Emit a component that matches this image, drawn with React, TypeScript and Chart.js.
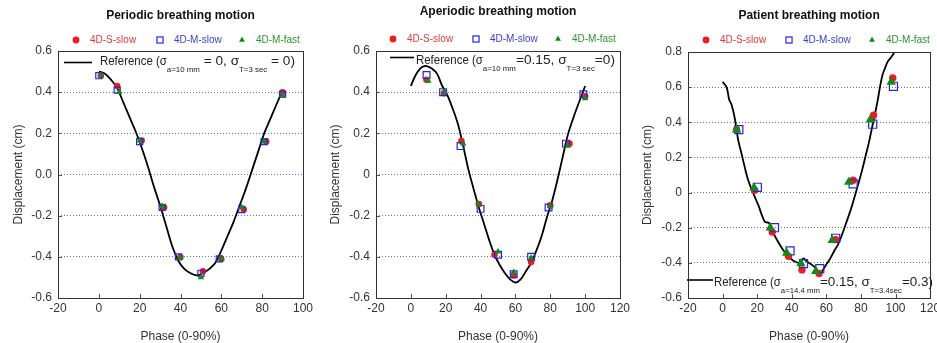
import React, { useEffect, useRef } from 'react';
import { Chart, registerables } from 'chart.js';
Chart.register(...registerables);

const FONT = '"Liberation Sans", Arial, sans-serif';

// ---------------- text ----------------
const panelTitles = ['Periodic breathing motion', 'Aperiodic breathing motion', 'Patient breathing motion'];
const seriesLabels = ['4D-S-slow', '4D-M-slow', '4D-M-fast'];
const xAxisTitle = 'Phase (0-90%)';
const yAxisTitle = 'Displacement (cm)';

const p1XTicks = ['-20', '0', '20', '40', '60', '80', '100'];
const p1YTicks = ['-0.6', '-0.4', '-0.2', '0.0', '0.2', '0.4', '0.6'];
const p2XTicks = ['-20', '0', '20', '40', '60', '80', '100', '120'];
const p2YTicks = ['-0.6', '-0.4', '-0.2', '0', '0.2', '0.4', '0.6'];
const p3XTicks = ['-20', '0', '20', '40', '60', '80', '100', '120'];
const p3YTicks = ['-0.6', '-0.4', '-0.2', '0', '0.2', '0.4', '0.6', '0.8'];

type Seg = { t: string; sub?: boolean };
const p1RefLabel: Seg[] = [{ t: 'Reference (σ' }, { t: 'a=10 mm', sub: true }, { t: ' = 0, σ' }, { t: 'T=3 sec', sub: true }, { t: ' = 0)' }];
const p2RefLabel: Seg[] = [{ t: 'Reference (σ' }, { t: 'a=10 mm', sub: true }, { t: '=0.15, σ' }, { t: 'T=3 sec', sub: true }, { t: '=0)' }];
const p3RefLabel: Seg[] = [{ t: 'Reference (σ' }, { t: 'a=14.4 mm', sub: true }, { t: '=0.15, σ' }, { t: 'T=3.4sec', sub: true }, { t: '=0.3)' }];

// ---------------- panel 1: periodic ----------------
const p1RefX = [0, 3, 6, 9, 12, 15, 18, 21, 24, 27, 30, 33, 36, 39, 42, 45, 48, 51, 54, 57, 60, 63, 66, 69, 72, 75, 78, 81, 84, 87, 90];
const p1RefY = [0.50, 0.49, 0.46, 0.42, 0.35, 0.28, 0.21, 0.13, 0.04, -0.06, -0.15, -0.25, -0.35, -0.42, -0.46, -0.48, -0.49, -0.48, -0.46, -0.43, -0.37, -0.30, -0.23, -0.15, -0.07, 0.02, 0.11, 0.20, 0.27, 0.34, 0.41];
const p1SSlowX = [1, 9, 21, 32, 40, 51, 60, 71, 82, 90];
const p1SSlowY = [0.48, 0.43, 0.165, -0.16, -0.40, -0.47, -0.41, -0.17, 0.16, 0.40];
const p1MSlowX = [0, 9, 20, 31, 39, 50, 59, 70, 81, 90];
const p1MSlowY = [0.48, 0.41, 0.16, -0.16, -0.40, -0.48, -0.41, -0.17, 0.16, 0.39];
const p1MFastX = [1, 10, 20, 31, 40, 50, 60, 70, 81, 90];
const p1MFastY = [0.48, 0.40, 0.165, -0.155, -0.405, -0.50, -0.41, -0.16, 0.16, 0.385];

// ---------------- panel 2: aperiodic ----------------
const p2RefX = [0, 2, 4, 6, 9, 12, 15, 18, 21, 24, 27, 30, 33, 36, 39, 42, 45, 48, 51, 54, 57, 60, 63, 66, 69, 72, 75, 78, 81, 84, 87, 90, 93, 96, 100];
const p2RefY = [0.43, 0.47, 0.50, 0.52, 0.527, 0.515, 0.49, 0.43, 0.385, 0.32, 0.245, 0.14, 0.025, -0.07, -0.16, -0.24, -0.32, -0.39, -0.44, -0.48, -0.51, -0.525, -0.51, -0.47, -0.43, -0.37, -0.30, -0.21, -0.13, -0.03, 0.08, 0.19, 0.27, 0.34, 0.43];
const p2SSlowX = [9, 19, 29, 39, 48, 59, 69, 80, 91, 100];
const p2SSlowY = [0.46, 0.395, 0.163, -0.143, -0.39, -0.49, -0.425, -0.15, 0.15, 0.38];
const p2MSlowX = [9, 18.5, 28.5, 40, 50, 59, 69, 79, 89, 99];
const p2MSlowY = [0.483, 0.40, 0.138, -0.167, -0.39, -0.485, -0.40, -0.16, 0.15, 0.39];
const p2MFastX = [10, 19, 30, 39, 50, 59, 69, 80, 90, 100];
const p2MFastY = [0.455, 0.40, 0.15, -0.145, -0.375, -0.475, -0.405, -0.155, 0.14, 0.37];

// ---------------- panel 3: patient ----------------
const p3RefX = [0, 2.3, 3.8, 5.2, 7.1, 9, 11, 12.8, 14.5, 16.7, 18, 19.5, 21, 22.4, 24.3, 25.5, 26.8, 27.5, 29.1, 31.5, 33.9, 36, 38.6, 40.5, 42.5, 44, 45.5, 46.8, 48, 49.1, 51.5, 53.9, 55.5, 56.8, 58, 60.6, 62.5, 64.4, 66.5, 68.3, 70.5, 73, 75, 76.9, 78.8, 80.6, 82.5, 84.5, 86, 87.3, 88.6, 89.8, 91, 92.5, 94, 95.5, 97.5, 99.4, 101];
const p3RefY = [0.63, 0.60, 0.53, 0.50, 0.42, 0.30, 0.22, 0.145, 0.08, 0.02, -0.01, -0.045, -0.08, -0.12, -0.165, -0.17, -0.172, -0.19, -0.225, -0.27, -0.31, -0.34, -0.367, -0.385, -0.395, -0.40, -0.39, -0.375, -0.385, -0.395, -0.41, -0.43, -0.45, -0.46, -0.44, -0.40, -0.37, -0.335, -0.30, -0.26, -0.20, -0.13, -0.07, -0.005, 0.06, 0.125, 0.20, 0.28, 0.35, 0.41, 0.47, 0.53, 0.60, 0.67, 0.71, 0.745, 0.77, 0.80, 0.83];
const p3SSlowX = [8.1, 18.5, 28.7, 38.1, 45.9, 55.8, 65.4, 75.5, 87.3, 98.4];
const p3SSlowY = [0.358, 0.013, -0.224, -0.363, -0.44, -0.46, -0.268, 0.07, 0.44, 0.652];
const p3MSlowX = [9.4, 20.1, 30, 39, 46.8, 56.2, 65.4, 75.5, 86.8, 98.8];
const p3MSlowY = [0.358, 0.03, -0.20, -0.332, -0.404, -0.433, -0.26, 0.05, 0.389, 0.605];
const p3MFastX = [8.1, 18.2, 27.6, 37.1, 45.3, 53.9, 63.4, 73, 85.4, 97.5];
const p3MFastY = [0.358, 0.028, -0.20, -0.344, -0.404, -0.448, -0.272, 0.06, 0.415, 0.629];

// ---------------- styles ----------------
const RED = '#ee1c1c';
const BLUE = '#2424e6';
const GREEN = '#138a13';
const legendTextColors = ['#e0393c', '#3c3cd2', '#2a952a'];

const pts = (xs: number[], ys: number[]) => xs.map((x, i) => ({ x, y: ys[i] }));

type PanelSpec = {
  title: string; titleY: number;
  xMin: number; xMax: number; yMin: number; yMax: number;
  xTicks: string[]; yTicks: string[];
  ref: Seg[]; refX: number[]; refY: number[];
  s: [number[], number[]]; m: [number[], number[]]; f: [number[], number[]];
  pad: { left: number; right: number; top: number; bottom: number }; yAxisW: number;
  gridColor: string;
  legendX: number[]; legendY: number;
  refLine: { x1: number; x2: number; y: number; tx: number; base: number; w: number };
  sizes: { c: number; s: number; t: number };
};

const panels: PanelSpec[] = [
  {
    title: panelTitles[0], titleY: 16, xMin: -20, xMax: 100, yMin: -0.6, yMax: 0.6,
    xTicks: p1XTicks, yTicks: p1YTicks, ref: p1RefLabel, refX: p1RefX, refY: p1RefY,
    s: [p1SSlowX, p1SSlowY], m: [p1MSlowX, p1MSlowY], f: [p1MFastX, p1MFastY],
    pad: { left: 11, right: 937 - 303, top: 51, bottom: 0 }, yAxisW: 47,
    gridColor: 'rgba(80,80,230,0.85)', legendX: [76, 160, 242], legendY: 40,
    refLine: { x1: 64, x2: 92, y: 62.5, tx: 100, base: 65, w: 195 },
    sizes: { c: 3.2, s: 4.3, t: 3.8 },
  },
  {
    title: panelTitles[1], titleY: 12, xMin: -20, xMax: 120, yMin: -0.6, yMax: 0.6,
    xTicks: p2XTicks, yTicks: p2YTicks, ref: p2RefLabel, refX: p2RefX, refY: p2RefY,
    s: [p2SSlowX, p2SSlowY], m: [p2MSlowX, p2MSlowY], f: [p2MFastX, p2MFastY],
    pad: { left: 328, right: 937 - 620, top: 51, bottom: 0 }, yAxisW: 48,
    gridColor: 'rgba(80,80,230,0.85)', legendX: [393, 476, 558], legendY: 39,
    refLine: { x1: 390, x2: 414, y: 57.5, tx: 416, base: 64, w: 199 },
    sizes: { c: 3.3, s: 4.8, t: 3.8 },
  },
  {
    title: panelTitles[2], titleY: 16, xMin: -20, xMax: 120, yMin: -0.6, yMax: 0.8,
    xTicks: p3XTicks, yTicks: p3YTicks, ref: p3RefLabel, refX: p3RefX, refY: p3RefY,
    s: [p3SSlowX, p3SSlowY], m: [p3MSlowX, p3MSlowY], f: [p3MFastX, p3MFastY],
    pad: { left: 640, right: 937 - 932, top: 52, bottom: 0 }, yAxisW: 48,
    gridColor: 'rgba(100,100,100,0.9)', legendX: [706, 789, 872], legendY: 40,
    refLine: { x1: 687, x2: 713, y: 280, tx: 714, base: 285.5, w: 219 },
    sizes: { c: 3.7, s: 5.7, t: 5.5 },
  },
];

function drawMarker(ctx: CanvasRenderingContext2D, kind: number, x: number, y: number, r: number) {
  ctx.save();
  if (kind === 0) {
    ctx.fillStyle = RED;
    ctx.beginPath(); ctx.arc(x, y, r, 0, Math.PI * 2); ctx.fill();
  } else if (kind === 1) {
    ctx.strokeStyle = BLUE; ctx.lineWidth = 1.2;
    const h = r * Math.SQRT1_2;
    ctx.strokeRect(x - h, y - h, 2 * h, 2 * h);
  } else {
    ctx.fillStyle = GREEN;
    ctx.beginPath();
    ctx.moveTo(x, y - r);
    ctx.lineTo(x + r * 0.866, y + r * 0.5);
    ctx.lineTo(x - r * 0.866, y + r * 0.5);
    ctx.closePath(); ctx.fill();
  }
  ctx.restore();
}

const MAIN_FONT = `13px ${FONT}`;
const SUB_FONT = `7.5px ${FONT}`;
const FIRST_SEG_SX = 0.88;

const decorPlugin = {
  id: 'decor',
  afterDraw(chart: any, _args: any, o: any) {
    const ctx: CanvasRenderingContext2D = chart.ctx;
    const a = chart.chartArea;
    const xs = chart.scales.x, ys = chart.scales.y;
    ctx.save();
    // inward tick marks
    ctx.strokeStyle = '#555'; ctx.lineWidth = 1;
    ctx.beginPath();
    xs.ticks.forEach((t: any) => {
      const px = Math.round(xs.getPixelForValue(t.value)) + 0.5;
      ctx.moveTo(px, a.bottom); ctx.lineTo(px, a.bottom - 4);
    });
    ys.ticks.forEach((t: any) => {
      const py = Math.round(ys.getPixelForValue(t.value)) + 0.5;
      ctx.moveTo(a.left, py); ctx.lineTo(a.left + 4, py);
    });
    ctx.stroke();
    // frame
    ctx.strokeStyle = '#333'; ctx.lineWidth = 1;
    ctx.strokeRect(Math.round(a.left) + 0.5, Math.round(a.top) + 0.5, Math.round(a.right - a.left), Math.round(a.bottom - a.top));
    // title
    ctx.fillStyle = '#111'; ctx.font = `bold 12px ${FONT}`;
    ctx.textAlign = 'center'; ctx.textBaseline = 'middle';
    ctx.fillText(o.title, (a.left + a.right) / 2, o.titleY);
    // series legend
    ctx.font = `10px ${FONT}`; ctx.textAlign = 'left';
    o.legendX.forEach((lx: number, i: number) => {
      drawMarker(ctx, i, lx, o.legendY, i === 1 ? 4.3 : 3.4);
      ctx.fillStyle = legendTextColors[i];
      ctx.fillText(seriesLabels[i], lx + 14, o.legendY + 0.5);
    });
    // reference legend
    const rl = o.refLine;
    ctx.strokeStyle = '#000'; ctx.lineWidth = 1.6;
    ctx.beginPath(); ctx.moveTo(rl.x1, rl.y); ctx.lineTo(rl.x2, rl.y); ctx.stroke();
    const segs = o.ref as Seg[];
    ctx.font = MAIN_FONT;
    const firstW = ctx.measureText(segs[0].t).width * FIRST_SEG_SX;
    let rest = 0;
    segs.slice(1).forEach((sg) => { ctx.font = sg.sub ? SUB_FONT : MAIN_FONT; rest += ctx.measureText(sg.t).width; });
    const sx = (rl.w - firstW) / rest;
    ctx.textBaseline = 'alphabetic'; ctx.fillStyle = '#222';
    ctx.save();
    ctx.translate(rl.tx, rl.base); ctx.scale(FIRST_SEG_SX, 1);
    ctx.font = MAIN_FONT; ctx.fillText(segs[0].t, 0, 0);
    ctx.restore();
    ctx.save();
    ctx.translate(rl.tx + firstW, rl.base); ctx.scale(sx, 1);
    let cx = 0;
    segs.slice(1).forEach((sg) => {
      ctx.font = sg.sub ? SUB_FONT : MAIN_FONT;
      ctx.fillText(sg.t, cx, sg.sub ? 7 : 0);
      cx += ctx.measureText(sg.t).width;
    });
    ctx.restore();
    ctx.restore();
  },
};

function makeConfig(p: PanelSpec): any {
  const r = p.sizes;
  return {
    type: 'scatter',
    data: {
      datasets: [
        { label: seriesLabels[2], data: pts(p.f[0], p.f[1]), pointStyle: 'triangle', pointRadius: r.t, backgroundColor: GREEN, borderColor: GREEN, borderWidth: 0 },
        { label: seriesLabels[1], data: pts(p.m[0], p.m[1]), pointStyle: 'rect', pointRadius: r.s, backgroundColor: 'rgba(0,0,0,0)', borderColor: BLUE, borderWidth: 1.2 },
        { label: seriesLabels[0], data: pts(p.s[0], p.s[1]), pointStyle: 'circle', pointRadius: r.c, backgroundColor: RED, borderColor: RED, borderWidth: 0 },
        { label: 'Reference', data: pts(p.refX, p.refY), showLine: true, pointRadius: 0, borderColor: '#000', borderWidth: 1.8, tension: 0.35, fill: false },
      ],
    },
    options: {
      responsive: false,
      animation: false,
      devicePixelRatio: 1,
      layout: { padding: p.pad },
      plugins: {
        legend: { display: false },
        title: { display: false },
        tooltip: { enabled: false },
        decor: {
          title: p.title, titleY: p.titleY, legendX: p.legendX, legendY: p.legendY,
          refLine: p.refLine, ref: p.ref,
        },
      },
      scales: {
        x: {
          type: 'linear', min: p.xMin, max: p.xMax,
          grid: { display: false },
          border: { display: false },
          ticks: {
            stepSize: 20, padding: -5, color: '#333', font: { size: 12, family: FONT },
            maxRotation: 0, autoSkip: false,
            callback: (_v: any, i: number) => p.xTicks[i],
          },
          title: { display: true, text: xAxisTitle, color: '#333', font: { size: 12, family: FONT }, padding: { top: 0, bottom: -1 } },
          afterFit: (s: any) => { s.height = 45; },
        },
        y: {
          type: 'linear', min: p.yMin, max: p.yMax,
          grid: {
            drawTicks: false, lineWidth: 1,
            color: (c: any) => (c.index === 0 || c.index === p.yTicks.length - 1 ? 'rgba(0,0,0,0)' : p.gridColor),
          },
          border: { display: false, dash: [1, 2] },
          ticks: {
            stepSize: 0.2, padding: 6, color: '#333', font: { size: 12, family: FONT },
            autoSkip: false,
            callback: (_v: any, i: number) => p.yTicks[i],
          },
          title: { display: true, text: yAxisTitle, color: '#333', font: { size: 12, family: FONT }, padding: { top: 0, bottom: 0 } },
          afterFit: (s: any) => { s.width = p.yAxisW; },
        },
      },
    },
    plugins: [decorPlugin],
  };
}

export default function App() {
  const r1 = useRef<HTMLCanvasElement>(null);
  const r2 = useRef<HTMLCanvasElement>(null);
  const r3 = useRef<HTMLCanvasElement>(null);
  useEffect(() => {
    Chart.defaults.font.family = FONT;
    const refs = [r1, r2, r3];
    const charts = refs.map((r, i) => new Chart(r.current as HTMLCanvasElement, makeConfig(panels[i])));
    return () => charts.forEach((c) => c.destroy());
  }, []);
  const st: React.CSSProperties = { position: 'absolute', left: 0, top: 0 };
  return (
    <div style={{ position: 'absolute', left: 0, top: 0, width: 937, height: 343, background: '#fff' }}>
      <canvas ref={r1} width={937} height={343} style={st} />
      <canvas ref={r2} width={937} height={343} style={st} />
      <canvas ref={r3} width={937} height={343} style={st} />
    </div>
  );
}
